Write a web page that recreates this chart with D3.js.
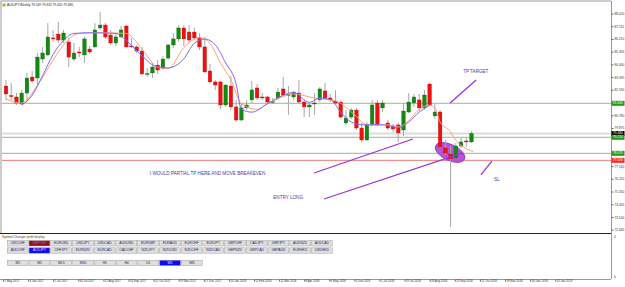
<!DOCTYPE html>
<html>
<head>
<meta charset="utf-8">
<script src="https://cdn.jsdelivr.net/npm/d3@7"></script>
<style>
  body { margin: 0; background: #fff; }
  svg { display: block; }
  text { font-family: "Liberation Sans", Arial, sans-serif; }
</style>
</head>
<body>
<div id="chart"></div>
<script>
// weekly AUDJPY candles
const opens  = [82.86,82.18,82.08,81.58,82.36,83.50,83.43,84.78,85.07,86.28,86.56,86.13,85.99,84.78,85.28,85.07,85.49,85.64,86.99,87.20,
                86.49,85.92,86.35,87.13,85.71,85.64,85.35,83.72,83.79,84.35,84.14,84.85,85.78,86.21,86.99,86.70,86.70,86.28,85.64,83.93,
                83.15,83.15,81.51,82.86,81.37,80.44,81.30,81.87,82.72,82.08,82.08,81.72,82.01,82.65,82.22,82.08,82.36,81.72,81.37,81.65,
                81.87,82.51,82.01,81.79,81.72,80.23,80.65,81.15,79.87,79.02,80.09,81.65,81.30,80.23,80.02,80.09,79.73,81.01,81.65,81.87,
                81.30,83.00,80.73,81.01,78.45,78.02,77.74,78.59,78.95,78.88];
const highs  = [83.29,83.07,82.36,82.58,83.79,83.93,85.21,85.64,87.34,86.85,87.42,86.85,86.28,85.92,85.64,86.35,85.71,87.34,88.13,87.34,
                86.85,86.56,87.13,87.20,86.28,85.78,85.64,84.14,84.50,84.71,85.00,85.85,86.63,87.20,87.20,87.20,86.99,86.63,86.35,84.43,
                83.29,83.22,83.00,83.57,81.87,81.65,81.87,83.22,83.00,82.36,82.15,82.01,82.72,83.50,82.86,82.51,83.29,81.87,81.65,82.36,
                82.79,83.07,82.29,82.58,81.87,81.15,81.30,81.30,80.23,80.30,81.87,81.87,81.87,80.44,80.16,80.23,81.65,82.36,82.29,82.29,
                82.58,83.07,81.58,81.15,79.02,78.59,78.80,79.23,79.16,79.66];
const lows   = [81.87,81.87,81.51,81.51,81.87,83.07,82.79,84.50,85.00,85.99,85.92,85.92,84.21,84.64,84.92,84.50,85.14,85.57,86.85,86.21,
                85.78,85.71,86.28,85.57,85.57,85.21,83.64,83.50,83.43,83.72,84.00,84.71,85.57,85.99,85.71,85.92,86.13,85.42,83.79,83.00,
                82.58,81.22,81.37,81.15,80.30,80.37,81.15,81.65,81.87,81.87,81.65,81.58,81.87,82.15,80.80,81.87,81.58,80.65,80.65,80.80,
                81.72,81.87,81.72,81.58,80.58,80.09,80.51,79.73,78.88,78.95,80.02,80.02,81.01,79.73,79.59,78.88,79.30,80.94,81.37,81.08,
                81.15,81.44,80.51,78.45,77.95,72.83,77.67,78.45,78.52,78.80];
const closes = [82.29,82.15,81.65,82.36,83.43,83.22,84.92,85.21,86.35,86.21,86.13,86.63,84.92,85.21,85.25,86.21,85.28,86.85,87.20,86.35,
                85.92,86.35,86.85,85.64,85.68,85.35,83.72,83.75,84.21,84.00,84.78,85.78,86.21,86.99,86.21,86.13,86.28,85.64,83.86,83.15,
                82.93,81.51,82.93,81.37,80.44,81.30,81.51,82.58,82.01,82.05,81.72,81.75,82.43,82.22,82.25,82.43,81.72,81.37,81.51,81.62,
                82.65,82.01,81.87,81.65,80.65,80.58,81.15,79.87,79.02,80.09,81.51,80.09,81.65,79.87,79.80,79.52,81.08,81.72,82.08,81.30,
                82.22,81.51,81.01,78.52,78.09,77.67,78.59,78.88,78.92,79.48];

// moving averages as drawn on the chart: [bar index, price]
const orangeMA = [[0,81.94],[3,81.65],[6,82.9],[9,84.7],[12,86.2],[14,86.6],[18,86.65],[23,86.6],[26,85.5],[29,84.2],[31,84.1],
                  [34,85.6],[37,86.3],[39,85.9],[41,84.5],[43,83.3],[45,81.6],[48,81.2],[50,81.6],[53,82.1],[55,82.3],
                  [59,82.0],[63,81.8],[67,80.7],[69,80.1],[73,80.1],[75,79.95],[77,80.4],[79,81.2],[81,81.5],[82,81.3],
                  [83,80.3],[85,79.6],[86,79.0],[87.5,78.5],[89.3,78.2]];
const blueMA   = [[3,81.5],[5,82.2],[7,83.6],[9,85.1],[11,86.1],[13,86.6],[16,86.65],[21,86.6],[23,86.1],[26,85.0],[29,84.2],
                  [31,84.15],[34,84.8],[36,85.9],[38,86.2],[40,85.8],[42,84.5],[44,83.0],[45,81.2],[47,81.0],[50,81.6],
                  [53,82.2],[55,82.4],[58,81.7],[60,82.0],[62,81.9],[64,81.0],[66,80.3],[68,80.1],[72,80.1],[75,79.9],
                  [77,80.3],[79,81.0],[81,81.5]];

const priceTicks = [88.020,87.115,86.210,85.305,84.400,83.495,82.590,81.685,80.780,79.875,78.970,78.065,77.160,76.255,75.350,74.445,73.540,72.635];
const levelPrices = [81.630, 79.480, 79.210, 78.070, 77.570];
const levelKinds  = ["target", "bid", "breakeven", "entry", "stop"];

const timeLabels = ["1 May 2017","4 Jun 2017","2 Jul 2017","30 Jul 2017","27 Aug 2017","24 Sep 2017","22 Oct 2017","19 Nov 2017",
                    "17 Dec 2017","14 Jan 2018","11 Feb 2018","11 Mar 2018","8 Apr 2018","6 May 2018","3 Jun 2018","1 Jul 2018",
                    "29 Jul 2018","26 Aug 2018","23 Sep 2018","21 Oct 2018","18 Nov 2018","16 Dec 2018","13 Jan 2019"];

// drawn objects: [bar index, price]
const trendLines = [
  [[84.9,81.65],[89.9,83.29]],
  [[58.9,76.67],[77.8,79.09]],
  [[60.8,74.82],[87.2,78.09]],
  [[90.8,76.53],[92.9,77.52]]
];
const notes = [
  {text:"TP TARGET", at:[87.4,83.86]},
  {text:"I WOULD PARTIAL TP HERE AND MOVE BREAKEVEN", at:[27.5,76.60]},
  {text:"ENTRY LONG", at:[51.1,74.89]},
  {text:"SL", at:[93.3,76.17]}
];
const ellipseAt = [84.9, 78.13];

const symbolsRow1 = ["USDCHF","GBPUSD","EURUSD","USDJPY","USDCAD","AUDUSD","EURGBP","EURAUD","EURCHF","EURJPY","GBPCHF","CADJPY","GBPJPY","AUDNZD","AUDCAD"];
const symbolsRow2 = ["AUDCHF","AUDJPY","CHFJPY","EURNZD","EURCAD","CADCHF","NZDJPY","NZDUSD","NZDCHF","NZDCAD","GBPNZD","GBPCAD","GBPAUD","EURHKD","USDHKD"];
const timeframes  = ["M1","M5","M15","M30","H1","H4","D1","W1","MN"];

const W = 625, H = 287;
const plotR = 611, mainB = 233, subB = 279;
const smallFont = 3.2;

const svg = d3.select("#chart").append("svg")
  .attr("width", W).attr("height", H);

const x = d3.scaleLinear().domain([0, opens.length - 1]).range([6, 471.5]);
const y = d3.scaleLinear().domain([72.635, 88.02]).range([229.7, 13.5]);

const main = svg.append("g");
main.append("clipPath").attr("id", "mainclip")
  .append("rect").attr("x", 2).attr("y", 2).attr("width", plotR - 2).attr("height", mainB - 2);

// frame
svg.append("line").attr("x1", 0.5).attr("x2", plotR).attr("y1", 1).attr("y2", 1).attr("stroke", "#999");
svg.append("line").attr("x1", 1).attr("x2", 1).attr("y1", 1).attr("y2", mainB).attr("stroke", "#999");
svg.append("line").attr("x1", plotR + 0.5).attr("x2", plotR + 0.5).attr("y1", 1).attr("y2", subB).attr("stroke", "#999");
svg.append("line").attr("x1", 0).attr("x2", plotR).attr("y1", mainB + 0.5).attr("y2", mainB + 0.5).attr("stroke", "#222");
svg.append("line").attr("x1", 0).attr("x2", plotR).attr("y1", subB + 0.5).attr("y2", subB + 0.5).attr("stroke", "#999");

// horizontal levels
const levelColor = {target:"#86c386", bid:"#dcdcdc", breakeven:"#86c386", entry:"#86c386", stop:"#f27a7a"};
const boxColor   = {target:"#1f9a1f", bid:"#000", breakeven:"#1f9a1f", entry:"#1f9a1f", stop:"#ff2a2a"};
const levels = levelPrices.map((p, i) => ({p, kind: levelKinds[i]}));
const gl = main.append("g").attr("clip-path", "url(#mainclip)");
gl.selectAll("line").data(levels).enter().append("line")
  .attr("x1", 2).attr("x2", plotR)
  .attr("y1", d => y(d.p)).attr("y2", d => y(d.p))
  .attr("stroke", d => levelColor[d.kind])
  .attr("stroke-width", d => d.kind === "bid" ? 2 : 1);

// ellipse behind candles
const ex = x(ellipseAt[0]), ey = y(ellipseAt[1]);
main.append("ellipse").attr("cx", 0).attr("cy", 0).attr("rx", 16).attr("ry", 8)
  .attr("transform", `translate(${ex},${ey}) rotate(25)`)
  .attr("fill", "#b653d6").attr("stroke", "#9a2fc8").attr("stroke-width", 0.8);

// candles
const bars = opens.map((o, i) => ({i, o, h: highs[i], l: lows[i], c: closes[i]}));
const gc = main.append("g").attr("clip-path", "url(#mainclip)");
gc.selectAll(".wick").data(bars).enter().append("line")
  .attr("x1", d => x(d.i)).attr("x2", d => x(d.i))
  .attr("y1", d => y(d.h)).attr("y2", d => y(d.l))
  .attr("stroke", "#a8a8a8").attr("stroke-width", 1);
gc.selectAll(".body").data(bars).enter().append("rect")
  .attr("x", d => x(d.i) - 1.8).attr("width", 3.6)
  .attr("y", d => y(Math.max(d.o, d.c)))
  .attr("height", d => Math.max(1, Math.abs(y(d.o) - y(d.c))))
  .attr("fill", d => d.c > d.o ? "#118a11" : (d.c < d.o ? "#f01010" : "#333"))
  .attr("stroke", d => d.c > d.o ? "#0b5e0b" : "#b00000").attr("stroke-width", 0.3);

// moving averages
const maLine = d3.line().x(d => x(d[0])).y(d => y(d[1])).curve(d3.curveMonotoneX);
main.append("path").datum(orangeMA).attr("d", maLine)
  .attr("fill", "none").attr("stroke", "#ff9f7a").attr("stroke-width", 1);
main.append("path").datum(blueMA).attr("d", maLine)
  .attr("fill", "none").attr("stroke", "#7b6cf0").attr("stroke-width", 1);

// trend lines + notes
main.selectAll(".tl").data(trendLines).enter().append("line")
  .attr("x1", d => x(d[0][0])).attr("y1", d => y(d[0][1]))
  .attr("x2", d => x(d[1][0])).attr("y2", d => y(d[1][1]))
  .attr("stroke", "#9b30e0").attr("stroke-width", 1.3);
main.selectAll(".note").data(notes).enter().append("text")
  .attr("x", d => x(d.at[0])).attr("y", d => y(d.at[1]))
  .attr("dominant-baseline", "middle")
  .attr("font-size", 4.6).attr("fill", "#3e3eb0")
  .text(d => d.text);

// header
svg.append("rect").attr("x", 2.5).attr("y", 3.5).attr("width", 3).attr("height", 3).attr("fill", "#c9a23a");
svg.append("text").attr("x", 7).attr("y", 5.2).attr("dominant-baseline", "middle")
  .attr("font-size", smallFont).attr("fill", "#222")
  .text("AUDJPY,Weekly  79.549 79.632 79.420 79.480");

// price axis
const boxYs = levels.map(d => y(d.p));
const shownTicks = priceTicks.filter(t => boxYs.every(b => Math.abs(b - y(t)) > 4.5));
const pa = svg.append("g").attr("transform", `translate(${plotR + 0.5},0)`)
  .call(d3.axisRight(y).tickValues(shownTicks).tickSize(2).tickPadding(1).tickFormat(d3.format(".3f")));
pa.select(".domain").remove();
pa.selectAll("line").attr("stroke", "#666");
pa.selectAll("text").attr("font-size", smallFont).attr("fill", "#333");

const boxes = svg.append("g").selectAll("g").data(levels).enter().append("g")
  .attr("transform", d => `translate(${plotR + 0.5},${y(d.p)})`);
boxes.append("rect").attr("x", 0).attr("y", -2.5).attr("width", 13).attr("height", 5)
  .attr("fill", d => boxColor[d.kind]);
boxes.append("text").attr("x", 1.5).attr("dominant-baseline", "middle")
  .attr("font-size", smallFont).attr("fill", "#fff").text(d => d3.format(".3f")(d.p));

// sub window
svg.append("text").attr("x", 2).attr("y", 237).attr("dominant-baseline", "middle")
  .attr("font-size", 3.2).attr("fill", "#5a3a1a").text("Symbol Changer profit display");
svg.append("text").attr("x", plotR + 3).attr("y", 237.5).attr("dominant-baseline", "middle")
  .attr("font-size", smallFont).attr("fill", "#333").text("0");
svg.append("text").attr("x", plotR + 3).attr("y", 277.5).attr("dominant-baseline", "middle")
  .attr("font-size", smallFont).attr("fill", "#333").text("0");

const step = 21.67;
const bx15 = d3.scaleBand().domain(d3.range(15)).range([7.3, 7.3 + step * 15]).paddingInner(0.04).paddingOuter(0);
const bx9  = d3.scaleBand().domain(d3.range(9)).range([7.3, 7.3 + step * 9]).paddingInner(0.04).paddingOuter(0);

function buttonRow(names, scale, top, active) {
  const g = svg.append("g").selectAll("g").data(names).enter().append("g")
    .attr("transform", (d, i) => `translate(${scale(i)},${top})`);
  g.append("rect").attr("width", scale.bandwidth()).attr("height", 5.4)
    .attr("fill", d => active[d] ? active[d][0] : "#dedede")
    .attr("stroke", "#a0a0a0").attr("stroke-width", 0.5);
  g.append("text").attr("x", scale.bandwidth() / 2).attr("y", 2.8)
    .attr("text-anchor", "middle").attr("dominant-baseline", "middle")
    .attr("font-size", 3.4).attr("fill", d => active[d] ? active[d][1] : "#1c1c6a")
    .text(d => d);
}
buttonRow(symbolsRow1, bx15, 240.6, {GBPUSD: ["#9a0b0b", "#7070ff"]});
buttonRow(symbolsRow2, bx15, 247.8, {AUDJPY: ["#0a0aff", "#ffd0d0"]});
buttonRow(timeframes, bx9, 260.2, {W1: ["#0a0aff", "#ffffff"]});

// time axis
const tx = d3.scalePoint().domain(timeLabels).range([3, 3 + 25.1 * (timeLabels.length - 1)]);
const ta = svg.append("g").attr("transform", `translate(0,${subB + 0.5})`)
  .call(d3.axisBottom(tx).tickSize(2).tickPadding(0.5));
ta.select(".domain").remove();
ta.selectAll("line").attr("stroke", "#666");
ta.selectAll("text").attr("font-size", 2.9).attr("fill", "#333")
  .attr("text-anchor", "start").attr("dx", 0.8).attr("dy", "0.1em");
</script>
</body>
</html>
